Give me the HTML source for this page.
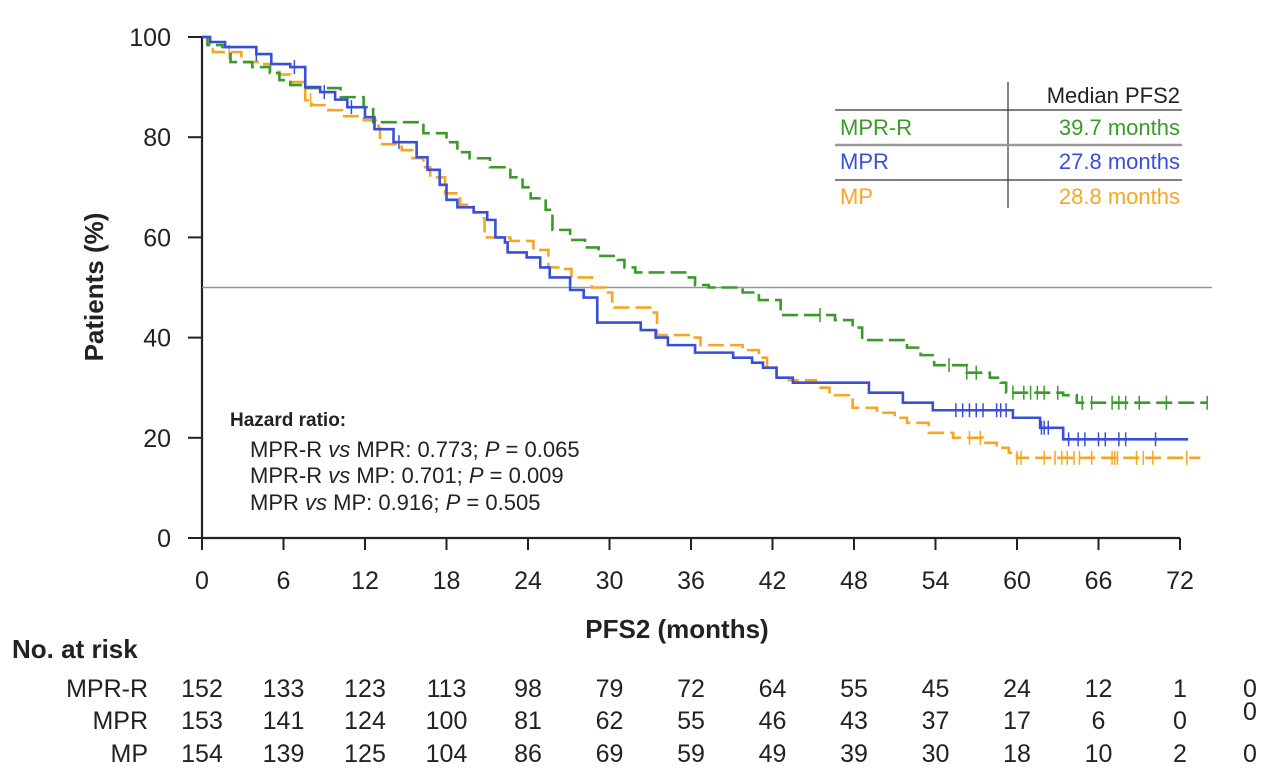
<!DOCTYPE html>
<html><head><meta charset="utf-8"><style>
body{margin:0;background:#fff;}
svg{display:block;font-family:"Liberation Sans",Arial,sans-serif;}
</style></head><body>
<svg id="chart" width="1280" height="781" viewBox="0 0 1280 781">
<g id="axes"></g>
<g id="series"></g>
<text x="103" y="287" transform="rotate(-90 103 287)" text-anchor="middle" font-size="26" font-weight="bold" fill="#222">Patients (%)</text>
<text x="677" y="638" text-anchor="middle" font-size="26" font-weight="bold" fill="#222">PFS2 (months)</text>
<g>
<line x1="1008" y1="82" x2="1008" y2="208" stroke="#333" stroke-width="1.2"/>
<line x1="835" y1="110" x2="1182" y2="110" stroke="#333" stroke-width="1.2"/>
<line x1="835" y1="145" x2="1182" y2="145" stroke="#999" stroke-width="2.5"/>
<line x1="835" y1="180" x2="1182" y2="180" stroke="#333" stroke-width="1.2"/>
<text x="1180" y="103" text-anchor="end" font-size="22" fill="#222">Median PFS2</text>
<text x="840" y="135" font-size="22" fill="#3a9a2a">MPR-R</text>
<text x="1180" y="135" text-anchor="end" font-size="22" fill="#3a9a2a">39.7 months</text>
<text x="840" y="169" font-size="22" fill="#3a4fd8">MPR</text>
<text x="1180" y="169" text-anchor="end" font-size="22" fill="#3a4fd8">27.8 months</text>
<text x="840" y="204" font-size="22" fill="#f5a623">MP</text>
<text x="1180" y="204" text-anchor="end" font-size="22" fill="#f5a623">28.8 months</text>
</g>
<g fill="#222">
<text x="230" y="426" font-size="19" font-weight="bold">Hazard ratio:</text>
<text x="250" y="457" font-size="22">MPR-R <tspan font-style="italic">vs</tspan> MPR: 0.773; <tspan font-style="italic">P</tspan> = 0.065</text>
<text x="250" y="483" font-size="22">MPR-R <tspan font-style="italic">vs</tspan> MP: 0.701; <tspan font-style="italic">P</tspan> = 0.009</text>
<text x="250" y="510" font-size="22">MPR <tspan font-style="italic">vs</tspan> MP: 0.916; <tspan font-style="italic">P</tspan> = 0.505</text>
</g>
<text x="12" y="658" font-size="26" font-weight="bold" fill="#222">No. at risk</text>
<g id="risk"></g>
</svg>
<script>
const xTicks=[0,6,12,18,24,30,36,42,48,54,60,66,72];
const yTicks=[0,20,40,60,80,100];
const mprrT=[0,0.4,1.5,2.1,3.7,5.0,5.7,6.5,7.4,10.2,11.9,12.6,16.3,18.0,18.8,19.7,21.2,22.7,23.6,24.2,25.3,25.8,27.1,28.2,29.2,30.6,31.1,31.9,35.7,36.3,37.3,39.8,41.0,42.6,46.6,47.9,48.6,51.9,52.9,53.9,56.3,58.0,58.8,59.2,63.4,64.4];
const mprrS=[100,98.4,98,95,94,92.8,91.4,90.4,89.8,88,86,83,80.8,79,77,75.8,74,72,70,67.8,65.5,61.5,59.5,58,56.3,55.5,54,53,52,50.5,50,49,47.5,44.5,43.5,42,39.5,38,36.5,34.5,33,32,31,29,28.5,27];
const mprrEnd=74;
const mprrCens=[45.5,55,56.3,57,59.7,60.5,61,61.5,62,63,64.8,65.5,67,67.5,68,69,71,74];
const mprT=[0,0.6,1.7,4.0,5.1,6.5,7.6,8.7,9.8,10.7,12.0,12.7,14.1,15.8,16.6,17.5,18.0,18.8,20.0,21.0,21.6,22.3,22.5,23.9,24.9,25.6,27.1,28.1,29.1,32.3,33.4,34.3,36.3,39.1,40.5,41.3,42.3,43.5,49.1,51.6,53.8,59.7,61.7,63.4];
const mprS=[100,99,98,96.6,94.6,94,90,89,87.5,86,84,81.6,79,76,73.5,70.5,67.5,66,65,63.5,60,59,57,56,54,52,49.5,48,43,41.5,40,38.5,37,36,35,34,32,31,29,27,25.5,24,22,19.7];
const mprEnd=72.6;
const mprCens=[4,6.8,9,11,14.5,55.5,56,56.5,57,57.5,58.5,58.8,59.2,61.8,62,62.3,63.8,64.5,65,66,66.5,67.5,68,70.2];
const mpT=[0,0.6,0.8,2.9,4.4,5.0,5.7,6.5,7.6,8.1,9.3,10.3,11.9,13.0,13.1,14.7,15.5,16.3,16.8,17.9,19.0,20.0,20.6,20.8,22.7,24.4,25.5,26.6,27.2,28.7,29.7,30.2,33.1,33.5,36.0,36.7,39.8,41.0,41.6,42.3,43.2,45.2,45.4,46.2,47.6,47.9,49.7,51.0,51.9,53.5,55.3,57.5,58.5,59.4,60.0];
const mpS=[100,98,97,95,94.6,93,92.5,91,87.4,86.4,85.4,84.2,83.4,81.8,78.6,77.4,75.8,74,72,68.8,66.5,65,63.8,60,59.3,57.5,54,53.7,52,50,49,46,45,40.5,40,38.5,37.5,36,34,32,31.5,31,30,28.5,28,26,25,24,23,21,20,19,18,17,16];
const mpEnd=73.5;
const mpCens=[2,8,56.5,57.3,60,60.3,62,62.8,63.3,63.7,64.2,64.6,65.5,67,67.2,67.4,68.8,69.3,70,72.5];
const riskRows=["MPR-R","MPR","MP"];
const riskMPRR=[152,133,123,113,98,79,72,64,55,45,24,12,1,0];
const riskMPR=[153,141,124,100,81,62,55,46,43,37,17,6,0,0];
const riskMP=[154,139,125,104,86,69,59,49,39,30,18,10,2,0];

const NS="http://www.w3.org/2000/svg";
const X0=202,X1=1180,Y0=538,Y1=37;
const xs=m=>X0+m*(X1-X0)/72;
const ys=p=>Y0-p*(Y0-Y1)/100;
function mk(tag,attrs,parent){const e=document.createElementNS(NS,tag);for(const k in attrs)e.setAttribute(k,attrs[k]);parent.appendChild(e);return e;}
const axes=document.getElementById('axes');
let e=mk('line',{x1:X0,y1:Y1,x2:X0,y2:Y0,stroke:'#222','stroke-width':2.2},axes);


e=mk('line',{x1:X0,y1:Y0,x2:X1,y2:Y0,stroke:'#222','stroke-width':2.2},axes);


yTicks.forEach(v=>{
  mk('line',{x1:X0-14,y1:ys(v),x2:X0,y2:ys(v),stroke:'#222','stroke-width':2},axes);
  const t=mk('text',{x:171,y:ys(v)+9,'text-anchor':'end','font-size':25,fill:'#222'},axes);
  t.textContent=v;
  
  
});
xTicks.forEach(v=>{
  mk('line',{x1:xs(v),y1:Y0,x2:xs(v),y2:Y0+12,stroke:'#222','stroke-width':2},axes);
  const t=mk('text',{x:xs(v),y:589,'text-anchor':'middle','font-size':25,fill:'#222'},axes);
  t.textContent=v;
  
  
});
e=mk('line',{x1:X0,y1:ys(50),x2:1212,y2:ys(50),stroke:'#8a9a9a','stroke-width':1.5},axes);



const ser=document.getElementById('series');
function stepPath(T,S,end){
  let d='M'+xs(T[0])+','+ys(S[0]);
  for(let i=1;i<T.length;i++){d+=' H'+xs(T[i])+' V'+ys(S[i]);}
  d+=' H'+xs(end);return d;
}
function valAt(T,S,t){let v=S[0];for(let i=0;i<T.length;i++){if(T[i]<=t)v=S[i];}return v;}
function drawSeries(T,S,end,cens,color,dash,name){
  const g=mk('g',{},ser);
  
  
  const p=mk('path',{d:stepPath(T,S,end),fill:'none',stroke:color,'stroke-width':2.6},g);
  if(dash)p.setAttribute('stroke-dasharray',dash);
  
  
  cens.forEach(c=>{
    const v=valAt(T,S,c);
    const l=mk('line',{x1:xs(c),y1:ys(v)-7,x2:xs(c),y2:ys(v)+7,stroke:color,'stroke-width':1.5},g);
    
    
  });
}
drawSeries(mpT,mpS,mpEnd,mpCens,'#f5a623','16,6','series-mp');
drawSeries(mprrT,mprrS,mprrEnd,mprrCens,'#3a9a2a','16,6','series-mpr-r');
drawSeries(mprT,mprS,mprEnd,mprCens,'#3a4fd8',null,'series-mpr');

const risk=document.getElementById('risk');
const rowY=[697,729,762];
[riskMPRR,riskMPR,riskMP].forEach((arr,r)=>{
  const lb=mk('text',{x:148,y:rowY[r],'text-anchor':'end','font-size':25,fill:'#222'},risk);
  lb.textContent=riskRows[r];
  
  
  arr.forEach((v,i)=>{
    const x=i<13?xs(i*6):1250;
    const yy=(i===13&&r===1)?rowY[r]-9:rowY[r];
    const t=mk('text',{x:x,y:yy,'text-anchor':'middle','font-size':25,fill:'#222'},risk);
    t.textContent=v;
    
    
  });
});
</script>
</body></html>
